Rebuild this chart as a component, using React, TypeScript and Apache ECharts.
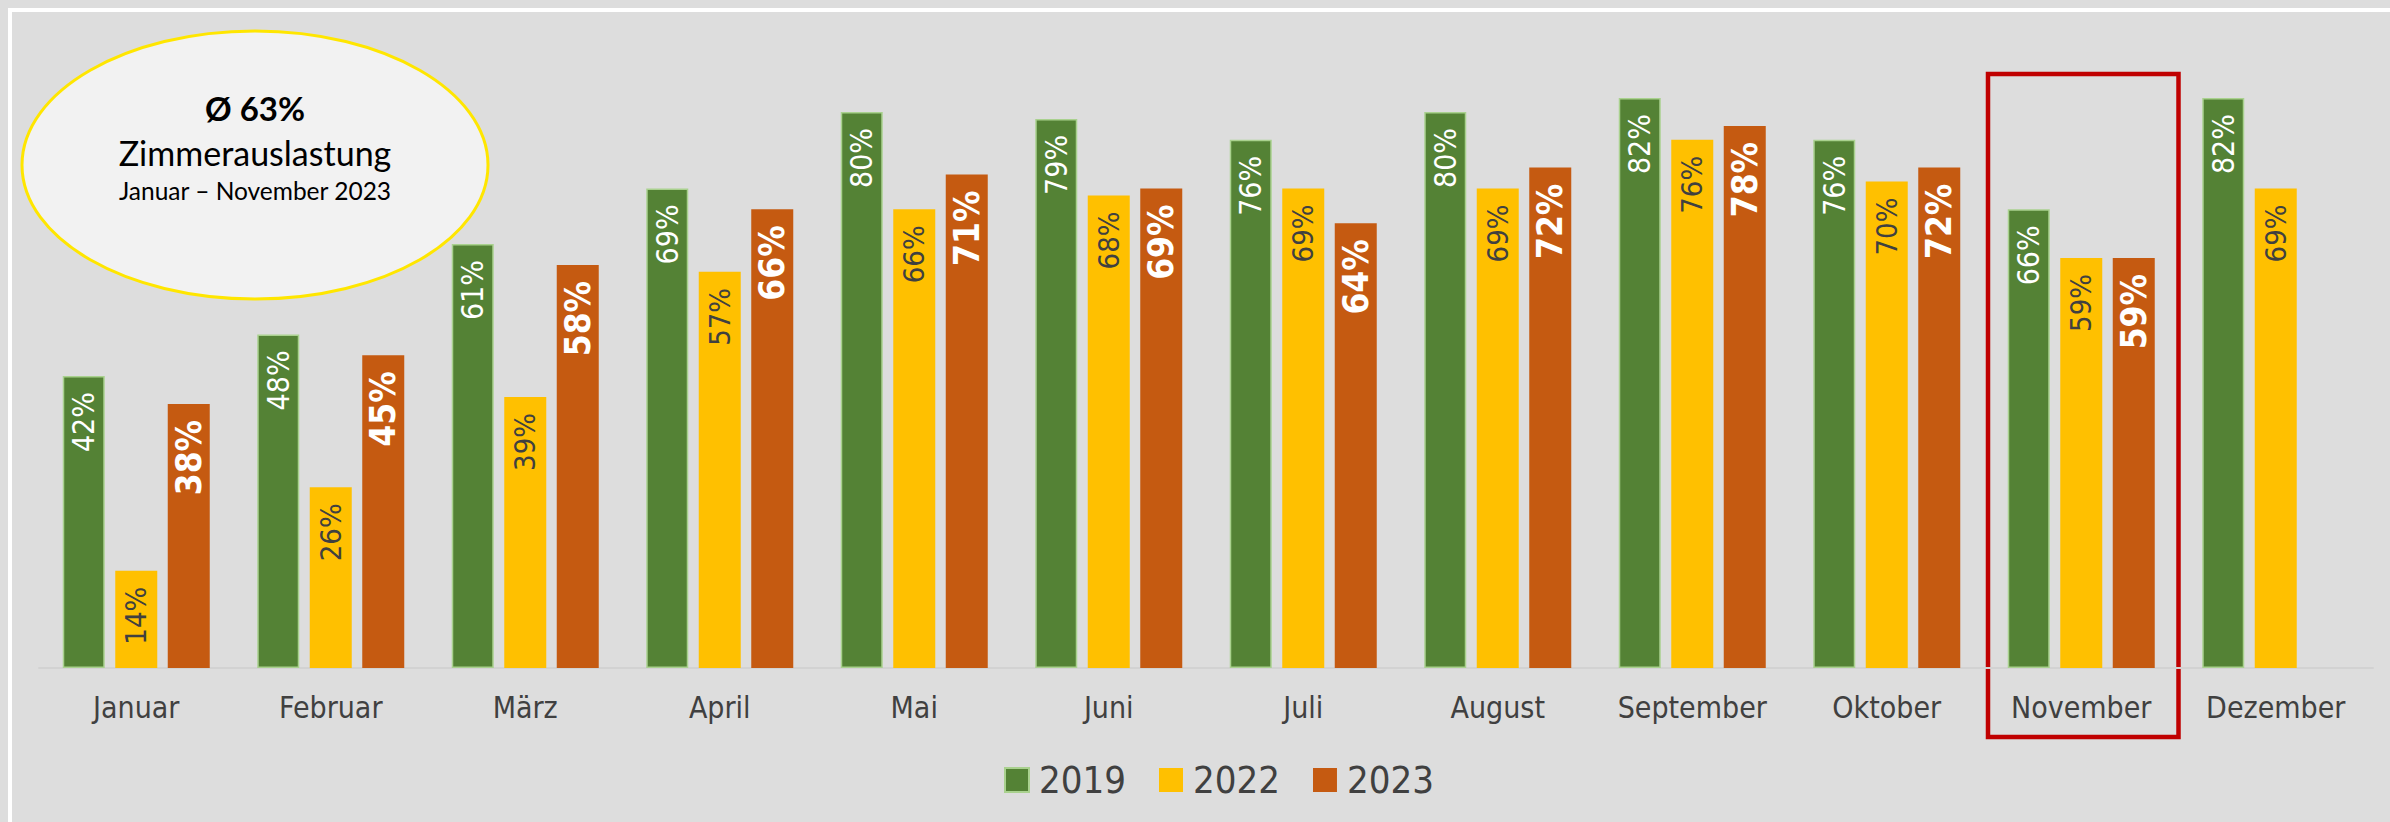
import React, { useEffect, useRef } from "react";
import * as echarts from "echarts";

const months = ["Januar", "Februar", "März", "April", "Mai", "Juni", "Juli", "August", "September", "Oktober", "November", "Dezember"];
const years = ["2019", "2022", "2023"];
const v2019 = [42, 48, 61, 69, 80, 79, 76, 80, 82, 76, 66, 82];
const v2022 = [14, 26, 39, 57, 66, 68, 69, 69, 76, 70, 59, 69];
const v2023: (number | null)[] = [38, 45, 58, 66, 71, 69, 64, 72, 78, 72, 59, null];
const highlightMonth = "November";
const boxTitleSub = "Zimmerauslastung";
const boxTitleRange = "Januar – November 2023";

const NARROW = '"Liberation Sans Narrow", "Arial Narrow", "DejaVu Sans Condensed", Roboto, sans-serif';
const CAL = 'Lato, "Open Sans", sans-serif';

export default function App() {
  const ref = useRef<HTMLDivElement>(null);
  useEffect(() => {
    if (!ref.current) return;
    const chart = echarts.init(ref.current, null, { renderer: "svg" });
    const vals2023 = v2023.filter((v) => v !== null) as number[];
    const avg = Math.round(vals2023.reduce((a, b) => a + b, 0) / vals2023.length);

    const labelBase = {
      show: true,
      position: "insideTop",
      rotate: 90,
      align: "right",
      verticalAlign: "middle",
      distance: 16,
      fontFamily: NARROW,
      formatter: "{c}%",
    };

    chart.setOption({
      animation: false,
      backgroundColor: "#dddddd",
      grid: { left: 39, right: 17, top: 42.5, bottom: 154 },
      legend: {
        data: years,
        left: 999,
        top: 756,
        icon: "rect",
        itemWidth: 24,
        itemHeight: 24,
        itemGap: 33,
        textStyle: { fontSize: 38, color: "#404040", fontFamily: NARROW, padding: [0, 0, 0, 5] },
      },
      xAxis: {
        type: "category",
        data: months,
        axisLine: { lineStyle: { color: "#d2d2d2", width: 2 } },
        axisTick: { show: false },
        axisLabel: { interval: 0, fontSize: 30, color: "#404040", fontFamily: NARROW, margin: 24 },
      },
      yAxis: { type: "value", min: 0, max: 90, show: false, splitLine: { show: false } },
      series: [
        {
          name: years[0],
          type: "bar",
          data: v2019,
          barWidth: 42,
          barGap: "25%",
          itemStyle: { color: "#548235", borderColor: "#a9d18e", borderWidth: 1.5 },
          label: { ...labelBase, color: "#ffffff", fontSize: 30 },
        },
        {
          name: years[1],
          type: "bar",
          data: v2022,
          barWidth: 42,
          barGap: "25%",
          itemStyle: { color: "#ffc000" },
          label: { ...labelBase, color: "#404040", fontSize: 29 },
        },
        {
          name: years[2],
          type: "bar",
          data: v2023,
          barWidth: 42,
          barGap: "25%",
          itemStyle: { color: "#c55a11" },
          label: { ...labelBase, color: "#ffffff", fontSize: 35, fontWeight: "bold" },
        },
      ],
    });

    const cx = chart.convertToPixel({ xAxisIndex: 0 }, highlightMonth) as number;
    const x0 = chart.convertToPixel({ xAxisIndex: 0 }, months[0]) as number;
    const x1 = chart.convertToPixel({ xAxisIndex: 0 }, months[1]) as number;
    const band = x1 - x0;

    chart.setOption({
      graphic: [
        { type: "line", shape: { x1: 8, y1: 10, x2: 2390, y2: 10 }, style: { stroke: "#ffffff", lineWidth: 4 }, silent: true },
        { type: "line", shape: { x1: 10, y1: 8, x2: 10, y2: 822 }, style: { stroke: "#ffffff", lineWidth: 4 }, silent: true },
        {
          type: "rect",
          shape: { x: cx - band / 2 + 4, y: 74, width: band - 4, height: 663 },
          style: { fill: "none", stroke: "#c00000", lineWidth: 4.5 },
          silent: true,
        },
        {
          type: "ellipse",
          shape: { cx: 255, cy: 165, rx: 233, ry: 134 },
          style: { fill: "#f2f2f2", stroke: "#ffe600", lineWidth: 3 },
          silent: true,
        },
        {
          type: "text",
          x: 255,
          y: 108,
          style: { text: "Ø " + avg + "%", fill: "#000000", font: "bold 33px " + CAL, textAlign: "center", textVerticalAlign: "middle" },
          silent: true,
        },
        {
          type: "text",
          x: 255,
          y: 152,
          style: { text: boxTitleSub, fill: "#000000", font: "34px " + CAL, textAlign: "center", textVerticalAlign: "middle" },
          silent: true,
        },
        {
          type: "text",
          x: 255,
          y: 190,
          style: { text: boxTitleRange, fill: "#000000", font: "24.5px " + CAL, textAlign: "center", textVerticalAlign: "middle" },
          silent: true,
        },
      ],
    });

    return () => chart.dispose();
  }, []);

  return (
    <div style={{ position: "absolute", left: 0, top: 0, width: 2390, height: 822, background: "#dddddd" }}>
      <div ref={ref} style={{ width: 2390, height: 822 }} />
    </div>
  );
}
